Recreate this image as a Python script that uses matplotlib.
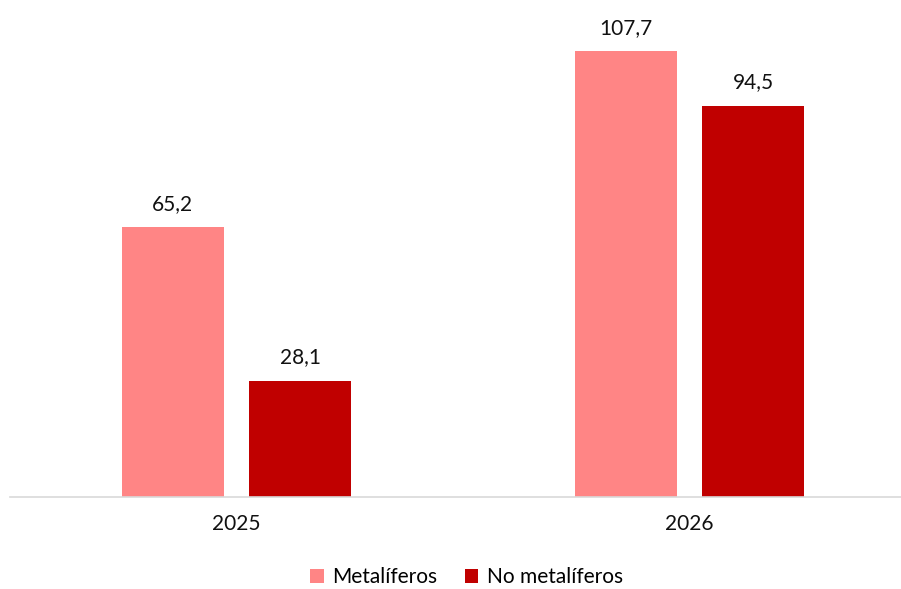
import matplotlib.pyplot as plt
import numpy as np

# datos
years = ['2025', '2026']
metaliferos = [65.2, 107.7]
no_metaliferos = [28.1, 94.5]
labels_series = ['Metalíferos', 'No metalíferos']

plt.rcParams['font.family'] = ['Lato', 'DejaVu Sans']

fig = plt.figure(figsize=(9.01, 5.89), dpi=100)
W, H = 901, 589
ax = fig.add_axes([10 / W, 1 - 497 / H, 891 / W, (497 - 20) / H])

x = np.arange(len(years))
bw = 0.225
off = 0.141
b1 = ax.bar(x - off, metaliferos, bw, color='#FF8585', label=labels_series[0])
b2 = ax.bar(x + off, no_metaliferos, bw, color='#C00000', label=labels_series[1])

for bars in (b1, b2):
    for r in bars:
        v = r.get_height()
        ax.annotate(f'{v:.1f}'.replace('.', ','), (r.get_x() + r.get_width() / 2, v),
                    xytext=(0, 12.3), textcoords='offset points',
                    ha='center', va='baseline', fontsize=15, color='#111111')

ax.set_xlim(-0.5, -0.5 + 891 / 453)
ax.set_ylim(0, (497 - 20) / 4.142)
ax.set_xticks(x)
ax.set_xticklabels(years, fontsize=15, color='#111111')
ax.tick_params(axis='x', length=0, pad=12)
ax.set_yticks([])
for s in ['top', 'right', 'left']:
    ax.spines[s].set_visible(False)
ax.spines['bottom'].set_color('#D9D9D9')
ax.spines['bottom'].set_linewidth(1.2)

fig.legend(loc='center', bbox_to_anchor=(466.5 / W, 1 - 577 / H), ncol=2, frameon=False,
           fontsize=15, handlelength=0.67, handleheight=0.67, handletextpad=0.4,
           columnspacing=1.3, borderpad=0, borderaxespad=0)

fig.savefig('out.png', dpi=100)
